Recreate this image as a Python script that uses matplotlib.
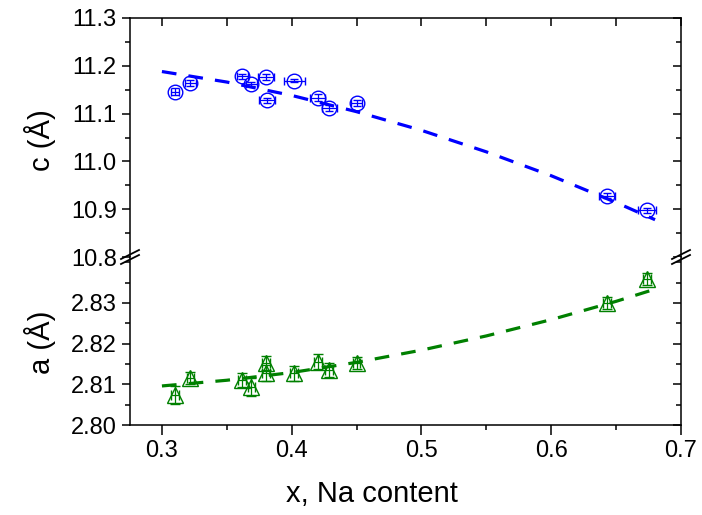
import numpy as np
import matplotlib
matplotlib.use("Agg")
import matplotlib.pyplot as plt
from matplotlib.ticker import MultipleLocator, FormatStrFormatter
from matplotlib.lines import Line2D

plt.rcParams['font.family'] = ['Liberation Sans', 'DejaVu Sans']

# c lattice parameter (top panel)
x_c = [0.310, 0.322, 0.362, 0.369, 0.380, 0.381, 0.402, 0.420, 0.429, 0.450, 0.643, 0.674]
c_val = [11.146, 11.164, 11.178, 11.162, 11.176, 11.128, 11.169, 11.133, 11.112, 11.122, 10.928, 10.898]
c_xerr = [0.003, 0.004, 0.004, 0.004, 0.006, 0.006, 0.008, 0.006, 0.006, 0.004, 0.006, 0.007]
c_yerr = [0.007, 0.006, 0.005, 0.005, 0.006, 0.005, 0.003, 0.007, 0.007, 0.006, 0.005, 0.005]

# a lattice parameter (bottom panel)
x_a = [0.310, 0.322, 0.362, 0.369, 0.380, 0.380, 0.402, 0.420, 0.429, 0.450, 0.643, 0.674]
a_val = [2.8074, 2.8115, 2.8111, 2.8094, 2.8152, 2.8127, 2.8127, 2.8156, 2.8135, 2.8152, 2.8300, 2.8358]
a_xerr = [0.003, 0.003, 0.003, 0.003, 0.003, 0.003, 0.003, 0.003, 0.003, 0.003, 0.003, 0.003]
a_yerr = [0.0022, 0.0015, 0.0018, 0.0022, 0.0018, 0.0020, 0.0018, 0.0018, 0.0018, 0.0015, 0.0015, 0.0015]

# fitted curves
fit_x = [0.30, 0.35, 0.40, 0.45, 0.50, 0.55, 0.60, 0.65, 0.68]
fit_c = [11.188, 11.166, 11.138, 11.104, 11.065, 11.020, 10.970, 10.914, 10.878]
fit_a = [2.8096, 2.8110, 2.8129, 2.8154, 2.8184, 2.8219, 2.8259, 2.8304, 2.8334]

blue = '#0000FF'
green = '#008000'

fig = plt.figure(figsize=(7.02, 5.15), dpi=100)
W, H = 702, 515
L, R, T, B, BRK = 130, 681, 18, 425, 257
ax_top = fig.add_axes([L / W, 1 - BRK / H, (R - L) / W, (BRK - T) / H])
ax_bot = fig.add_axes([L / W, 1 - B / H, (R - L) / W, (B - BRK) / H])

ax_top.plot(fit_x, fit_c, color=blue, lw=2.3, dashes=(4.6, 3.8))
ax_top.errorbar(x_c, c_val, xerr=c_xerr, yerr=c_yerr, fmt='o', ms=10.5, mfc='none',
                mec=blue, mew=1.0, ecolor=blue, elinewidth=0.9, capsize=3, capthick=0.9)

ax_bot.plot(fit_x, fit_a, color=green, lw=2.3, dashes=(4.6, 3.8))
ax_bot.errorbar(x_a, a_val, xerr=a_xerr, yerr=a_yerr, fmt='^', ms=12, mfc='none',
                mec=green, mew=1.0, ecolor=green, elinewidth=0.9, capsize=3.5, capthick=0.9)

for ax in (ax_top, ax_bot):
    ax.set_xlim(0.2754, 0.7)
    for s in ax.spines.values():
        s.set_linewidth(1.1)
    ax.xaxis.set_major_locator(MultipleLocator(0.1))
    ax.xaxis.set_minor_locator(MultipleLocator(0.05))
    ax.tick_params(axis='y', which='both', left=True, right=True, width=1.1,
                   labelsize=17, direction='out')
    ax.tick_params(axis='y', which='major', length=6)
    ax.tick_params(axis='y', which='minor', length=3.6)

ax_top.set_ylim(10.8, 11.3)
ax_top.yaxis.set_major_locator(MultipleLocator(0.1))
ax_top.yaxis.set_minor_locator(MultipleLocator(0.05))
ax_top.yaxis.set_major_formatter(FormatStrFormatter('%.1f'))
ax_top.spines['bottom'].set_visible(False)
ax_top.tick_params(axis='x', which='both', bottom=False, labelbottom=False, top=True,
                   direction='in', length=5.5, width=1.1)

ax_bot.set_ylim(2.80, 2.8413)
ax_bot.yaxis.set_minor_locator(MultipleLocator(0.005))
ax_bot.set_yticks([2.80, 2.81, 2.82, 2.83])
ax_bot.yaxis.set_major_formatter(FormatStrFormatter('%.2f'))
ax_bot.spines['top'].set_visible(False)
ax_bot.tick_params(axis='x', which='both', top=False, direction='out', width=1.1, labelsize=17)
ax_bot.tick_params(axis='x', which='major', length=7)
ax_bot.tick_params(axis='x', which='minor', length=3.6)
ax_bot.xaxis.set_major_formatter(FormatStrFormatter('%.1f'))

# right side ticks point inward
for ax in (ax_top, ax_bot):
    for tl in ax.yaxis.get_majorticklines()[1::2] + ax.yaxis.get_minorticklines()[1::2]:
        tl.set_marker(matplotlib.markers.TICKLEFT)

ax_bot.set_xlabel('x, Na content', fontsize=21)
ax_bot.xaxis.set_label_coords((372 - L) / (R - L), -0.33)

fig.text(40 / W, 1 - 140 / H, 'c (Å)', rotation=90, fontsize=21, ha='center', va='center')
fig.text(40 / W, 1 - 342 / H, 'a (Å)', rotation=90, fontsize=21, ha='center', va='center')

# axis break marks
for xc in (L, R):
    for dy in (-2.5, 2.5):
        x0, x1 = xc - 9, xc + 9
        y0, y1 = BRK + 4.5 + dy, BRK - 4.5 + dy
        fig.add_artist(Line2D([x0 / W, x1 / W], [1 - y0 / H, 1 - y1 / H],
                              color='black', lw=1.3))

fig.savefig('out.png', dpi=100)
